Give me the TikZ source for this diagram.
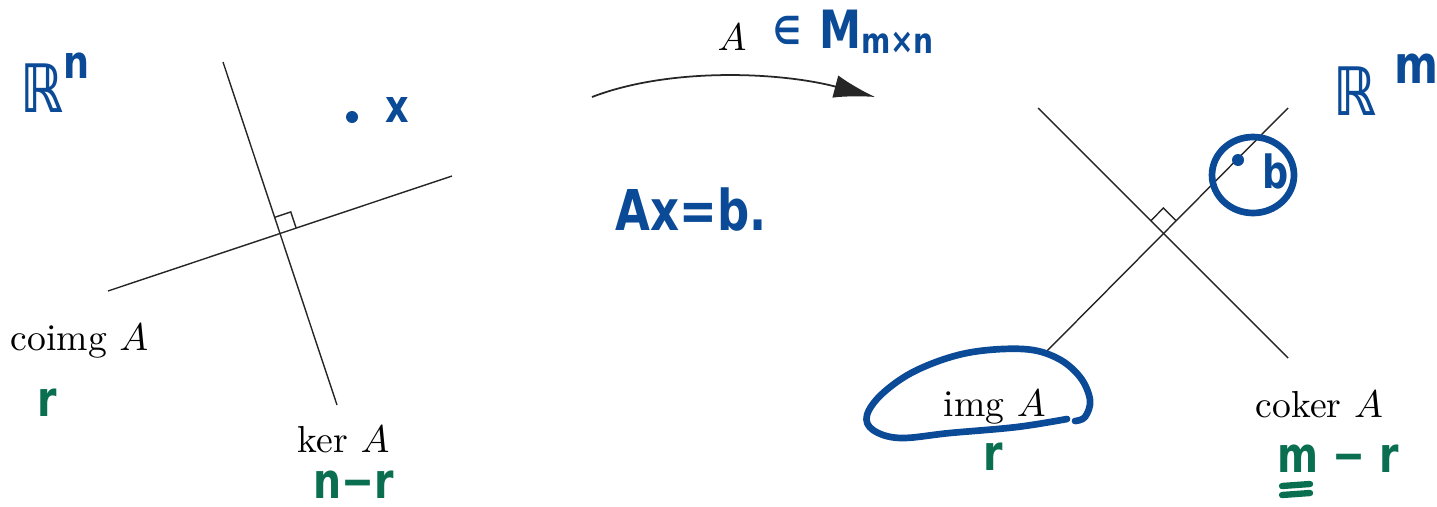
\documentclass[tikz,border=0pt]{standalone}
\usepackage{fontspec}
\newfontfamily\handfont{DejaVu Sans}[FakeStretch=0.8]
\usetikzlibrary{arrows.meta,calc}
\definecolor{inkblue}{HTML}{0B4A96}
\definecolor{inkgreen}{HTML}{0A6E50}

\begin{document}
\begin{tikzpicture}[x=0.01cm, y=-0.01cm,
    every node/.style={inner sep=0pt},
    subspace/.style={line width=0.4pt, black!85},
    texlabel/.style={font=\fontsize{10.7}{12}\selectfont, anchor=base west},
    ink/.style={inkblue, line width=1.9pt, line cap=round, line join=round},
    greenstroke/.style={inkgreen, line width=1.8pt, line cap=round},
    blueink/.style={text=inkblue, font=\handfont\bfseries\fontsize{#1}{#1}\selectfont, anchor=base west},
    greenink/.style={text=inkgreen, font=\handfont\bfseries\fontsize{#1}{#1}\selectfont, anchor=base west}]
  \useasboundingbox (0,0) rectangle (1437,506);

  % domain: ker A and coimg A
  \coordinate (kerTop) at (223,62);
  \coordinate (kerEnd) at (337,405);
  \coordinate (coimgEnd) at (108,291);
  \coordinate (coimgTop) at (452,176);
  \coordinate (o1) at (280,233.5);
  \draw[subspace] (kerTop) -- (kerEnd);
  \draw[subspace] (coimgEnd) -- (coimgTop);
  \coordinate (sqA) at ($(o1)!0.17cm!(kerTop)$);
  \coordinate (sqB) at ($(o1)!0.17cm!(coimgTop)$);
  \draw[subspace] (sqA) -- ($(sqA)+(sqB)-(o1)$) -- (sqB);

  \node[texlabel] (coimg) at (10,350) {coimg $A$};
  \node[texlabel] (ker) at (297,452) {ker $A$};

  % codomain: img A and coker A
  \coordinate (cokerTop) at (1038,108);
  \coordinate (cokerEnd) at (1288,358);
  \coordinate (imgEnd) at (1043,355);
  \coordinate (imgTop) at (1288,108);
  \coordinate (o2) at (1163.5,233.5);
  \draw[subspace] (cokerTop) -- (cokerEnd);
  \draw[subspace] (imgEnd) -- (imgTop);
  \coordinate (sqC) at ($(o2)!0.18cm!(cokerTop)$);
  \coordinate (sqD) at ($(o2)!0.18cm!(imgTop)$);
  \draw[subspace] (sqC) -- ($(sqC)+(sqD)-(o2)$) -- (sqD);

  \node[texlabel] (img) at (943,416) {img $A$};
  \node[texlabel] (coker) at (1255,417) {coker $A$};

  % the map
  \coordinate (mapFrom) at (592,97);
  \coordinate (mapTo) at (875,97);
  \draw[subspace, line width=0.5pt, -{Latex[length=0.41cm,width=0.23cm]}]
    (mapFrom) .. controls (670,67) and (780,72) .. (mapTo);
  \node[texlabel] (mapA) at (717,50) {$A$};

  % notes in blue
  \node[blueink=19] (Rn) at (20,112) {ℝ\raisebox{9.6pt}{\fontsize{13}{13}\selectfont n}};
  \node[blueink=19] (Rm) at (1333,115) {ℝ\hspace{5pt}\raisebox{9pt}{\fontsize{15}{15}\selectfont m}};
  \fill[inkblue] (352,117) circle (6);
  \node[blueink=13] (xvec) at (385,122) {x};
  \node[blueink=15] (space) at (773,48)
    {\raisebox{1pt}{\fontsize{11}{11}\selectfont ∈}\hspace{5pt}M\raisebox{-1.5pt}{\fontsize{10}{10}\selectfont m×n}};
  \node[blueink=16] (eqn) at (615,230) {Ax=b.};
  \fill[inkblue] (1238,160) circle (6);
  \node[blueink=13] (bvec) at (1262,188) {b};
  \draw[ink] (1253,175) ellipse (41 and 38);
  \draw[ink] plot[smooth, tension=0.6] coordinates {(1067,419) (1017,427) (950,433)
    (900,438) (873,430) (867,415) (883,393) (917,370) (967,353) (1023,349)
    (1057,358) (1080,377) (1090,400) (1085,417) (1075,421)};

  % dimensions in green
  \node[greenink=14] (rCoimg) at (37,416) {r};
  \node[greenink=14] (rKer) at (313,498) {n−r};
  \node[greenink=14] (rImg) at (983,470) {r};
  \node[greenink=14] (rCoker) at (1277,472) {m − r};
  \draw[greenstroke] (1282,486) -- (1310,484);
  \draw[greenstroke] (1282,495) -- (1310,493);
\end{tikzpicture}
\end{document}
